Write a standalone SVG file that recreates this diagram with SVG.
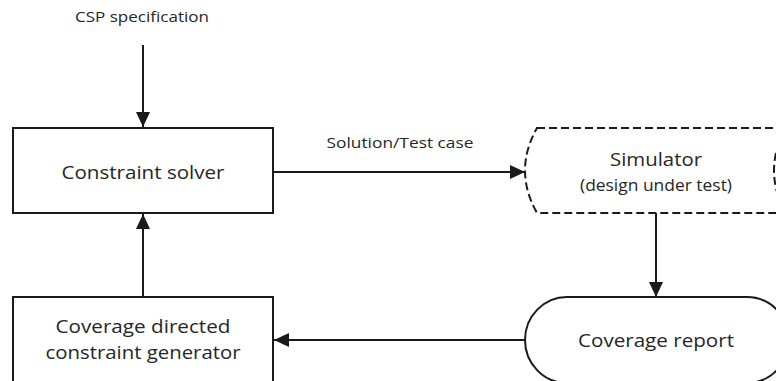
<svg xmlns="http://www.w3.org/2000/svg" width="776" height="381" viewBox="0 0 776 381">
  <style>
    .box { fill: #ffffff; stroke: #1a1a1a; stroke-width: 2; }
    .dash { fill: #ffffff; stroke: #1a1a1a; stroke-width: 2; stroke-dasharray: 8 4; }
    .edge { fill: none; stroke: #1a1a1a; stroke-width: 2; }
    text { font-family: "Open Sans", "Noto Sans", sans-serif; fill: #262626; text-anchor: middle; }
    .lg { font-size: 19px; }
    .md { font-size: 15.5px; }
    .sm { font-size: 14.5px; }
  </style>
  <defs>
    <marker id="arrow" markerUnits="userSpaceOnUse" markerWidth="16" markerHeight="14" viewBox="0 0 16 14" refX="15" refY="7" orient="auto">
      <path d="M0,0 L15,7 L0,14 Z" fill="#1a1a1a"/>
    </marker>
  </defs>

  <!-- input label -->
  <text class="sm" x="142" y="22" textLength="134" lengthAdjust="spacingAndGlyphs">CSP specification</text>

  <g id="solver">
    <rect class="box" x="13" y="128" width="260" height="85"/>
    <text class="lg" x="143" y="179" textLength="163" lengthAdjust="spacingAndGlyphs">Constraint solver</text>
  </g>

  <g id="generator">
    <rect class="box" x="13" y="297" width="260" height="100"/>
    <text class="lg" x="143" y="333" textLength="175" lengthAdjust="spacingAndGlyphs">Coverage directed</text>
    <text class="lg" x="143" y="359" textLength="195" lengthAdjust="spacingAndGlyphs">constraint generator</text>
  </g>

  <g id="simulator">
    <!-- stored-data outline: convex left side, concave right side -->
    <path class="dash" d="M537,128 L786,128 Q762,170.5 786,213 L537,213 Q513,170.5 537,128 Z"/>
    <text class="lg" x="656" y="166" textLength="92" lengthAdjust="spacingAndGlyphs">Simulator</text>
    <text class="md" x="656" y="191" textLength="152" lengthAdjust="spacingAndGlyphs">(design under test)</text>
  </g>

  <g id="report">
    <rect class="box" x="525" y="297" width="264" height="86" rx="42" ry="43"/>
    <text class="lg" x="656" y="347" textLength="156" lengthAdjust="spacingAndGlyphs">Coverage report</text>
  </g>

  <g id="connectors">
    <line class="edge" x1="143" y1="45" x2="143" y2="127" marker-end="url(#arrow)"/>
    <line class="edge" x1="143" y1="297" x2="143" y2="214" marker-end="url(#arrow)"/>
    <line class="edge" x1="273" y1="172" x2="525" y2="172" marker-end="url(#arrow)"/>
    <line class="edge" x1="656" y1="213" x2="656" y2="297" marker-end="url(#arrow)"/>
    <line class="edge" x1="525" y1="340" x2="274" y2="340" marker-end="url(#arrow)"/>
    <text class="sm" x="400" y="148" textLength="147" lengthAdjust="spacingAndGlyphs">Solution/Test case</text>
  </g>
</svg>
